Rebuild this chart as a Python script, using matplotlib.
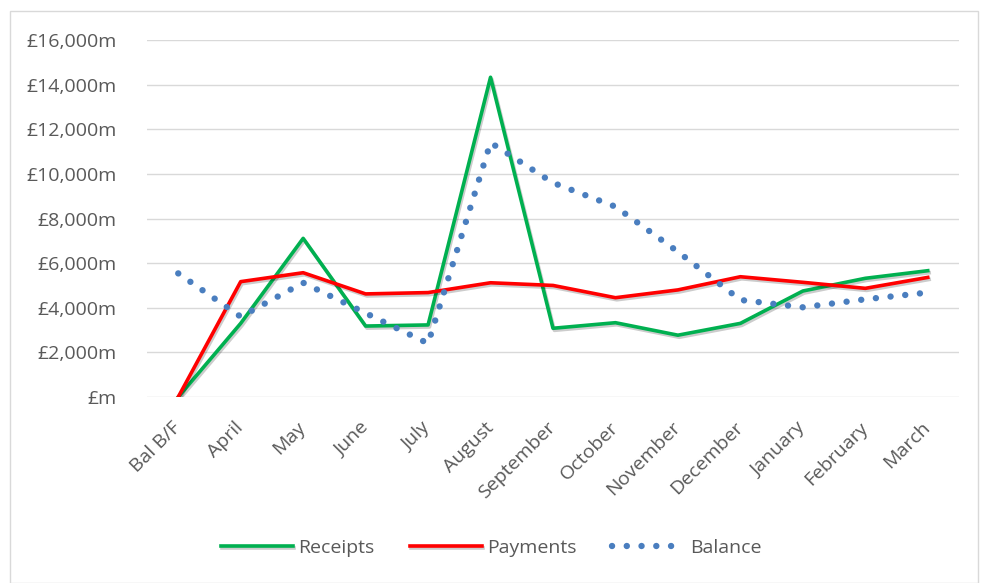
import matplotlib.pyplot as plt
import matplotlib.patheffects as pe
from matplotlib.patches import Rectangle
from matplotlib.ticker import FuncFormatter

# Monthly figures, £m
months = ["Bal B/F", "April", "May", "June", "July", "August", "September",
          "October", "November", "December", "January", "February", "March"]
receipts = [0, 3300, 7110, 3180, 3230, 14330, 3080, 3330, 2770, 3300, 4750, 5320, 5660]
payments = [0, 5170, 5570, 4620, 4680, 5120, 5000, 4450, 4800, 5390, 5140, 4870, 5360]
balance = [5540, 3600, 5120, 3760, 2400, 11400, 9600, 8530, 6510, 4350, 4020, 4380, 4680]

plt.rcParams['font.family'] = ['Open Sans', 'DejaVu Sans']
txt = '#595959'
fs = 14

fig = plt.figure(figsize=(9.82, 5.83), dpi=100)
ax = fig.add_axes([147 / 982, 1 - 397 / 583, 812 / 982, 357 / 583])

shadow = [pe.SimpleLineShadow(offset=(1, -1.5), shadow_color='black', alpha=0.2), pe.Normal()]
x = range(len(months))
ax.plot(x, receipts, color='#00B050', lw=2.6, label='Receipts', path_effects=shadow, zorder=3)
ax.plot(x, payments, color='#FF0000', lw=2.6, label='Payments', path_effects=shadow, zorder=4)
ax.plot(x, balance, color='#4A7EBF', lw=4.6, linestyle=(0, (0.01, 2.3)),
        dash_capstyle='round', label='Balance', zorder=5)

ax.set_xlim(-0.5, len(months) - 0.5)
ax.set_ylim(0, 16000)
ax.set_yticks(range(0, 16001, 2000))
ax.yaxis.set_major_formatter(FuncFormatter(lambda v, p: '£m' if v == 0 else f'£{v:,.0f}m'))
ax.grid(axis='y', color='#D9D9D9', lw=1)
ax.set_axisbelow(True)
for s in ax.spines.values():
    s.set_visible(False)
ax.tick_params(axis='both', length=0, colors=txt, labelsize=fs)
ax.tick_params(axis='y', pad=22)
ax.set_xticks(list(x))
ax.set_xticklabels(months, rotation=45, ha='right', va='center', rotation_mode='anchor')
ax.tick_params(axis='x', pad=20)

fig.legend(loc='center', bbox_to_anchor=(0.5, 1 - 548 / 583), ncol=3, frameon=False,
           fontsize=fs, labelcolor=txt, handlelength=3.7, columnspacing=1.8, handletextpad=0.3)

fig.patches.append(Rectangle((10 / 982, 0), 968 / 982, 1 - 11 / 583, transform=fig.transFigure,
                             fill=False, edgecolor='#D9D9D9', lw=1))

fig.savefig('out.png', dpi=100)
